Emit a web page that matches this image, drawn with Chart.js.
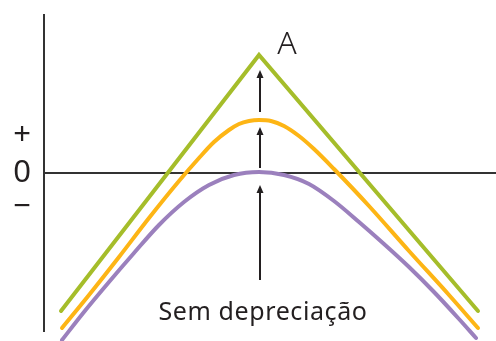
<!DOCTYPE html>
<html>
<head>
<meta charset="utf-8">
<script src="https://cdn.jsdelivr.net/npm/chart.js@4/dist/chart.umd.min.js"></script>
<style>
html,body{margin:0;padding:0;background:#fff;overflow:hidden;}
#wrap{width:496px;height:341px;position:relative;}
</style>
</head>
<body>
<div id="wrap"><canvas id="c"></canvas></div>
<script>
// Data (x: position along horizontal axis, y: value, 0 = zero line)
const greenX  = [17, 215, 434];
const greenY  = [-138, 118, -138];
const orangeX = [18, 45, 75, 105, 135, 155, 170, 185, 195, 205, 215, 227, 240, 255, 270, 290, 325, 365, 405, 434];
const orangeY = [-155, -122, -84, -45, -8, 15, 31, 43, 49, 52, 53, 52, 47, 37, 24, 4, -33, -78, -122, -155];
const purpleX = [18, 40, 65, 90, 115, 140, 165, 190, 215, 240, 265, 290, 315, 340, 365, 390, 415, 432];
const purpleY = [-167, -139, -109, -80, -52, -29, -12, -2, 1, -2, -11, -28, -49, -71, -94, -119, -146, -165];
const tickValues = [38, 0, -34];
const tickLabels = ['+', '0', '\u2212'];
// arrows: x position and [from, to] values
const arrowX = 216;
const arrowFrom = [-107, 5, 61];
const arrowTo   = [-12, 46, 103];
const labelA = {x: 243, y: 128, text: 'A'};
const labelSem = {x: 219, y: -140, text: 'Sem depreciação'};

const pts = (xs, ys) => xs.map((x, i) => ({x, y: ys[i]}));

const annotate = {
  id: 'annotate',
  afterDatasetsDraw(chart) {
    const {ctx, scales: {x, y}} = chart;
    ctx.save();
    ctx.strokeStyle = '#231f20';
    ctx.fillStyle = '#231f20';
    ctx.lineWidth = 2;
    const px = x.getPixelForValue(arrowX);
    arrowFrom.forEach((f, i) => {
      const y0 = y.getPixelForValue(f);
      const y1 = y.getPixelForValue(arrowTo[i]);
      ctx.beginPath();
      ctx.moveTo(px, y0);
      ctx.lineTo(px, y1 + 6);
      ctx.stroke();
      ctx.beginPath();
      ctx.moveTo(px, y1);
      ctx.lineTo(px - 3.5, y1 + 8);
      ctx.lineTo(px + 3.5, y1 + 8);
      ctx.closePath();
      ctx.fill();
    });
    ctx.textAlign = 'center';
    ctx.textBaseline = 'middle';
    ctx.font = '300 32px "Noto Sans", "Liberation Sans", sans-serif';
    ctx.fillText(labelA.text, x.getPixelForValue(labelA.x), y.getPixelForValue(labelA.y));
    ctx.font = '25px "Noto Sans", "Liberation Sans", sans-serif';
    try { ctx.letterSpacing = '0.6px'; } catch (e) {}
    ctx.fillText(labelSem.text, x.getPixelForValue(labelSem.x), y.getPixelForValue(labelSem.y));
    ctx.restore();
  }
};

const lineDs = (data, color, smooth) => ({
  data, borderColor: color, borderWidth: 4, pointRadius: 0, fill: false,
  clip: false, borderCapStyle: 'round', borderJoinStyle: 'miter',
  cubicInterpolationMode: smooth ? 'monotone' : 'default', tension: 0
});

new Chart(document.getElementById('c'), {
  type: 'line',
  data: {
    datasets: [
      lineDs(pts(purpleX, purpleY), '#9b80bd', true),
      lineDs(pts(orangeX, orangeY), '#fdb515', true),
      lineDs(pts(greenX, greenY), '#a5bd2a', false)
    ]
  },
  options: {
    responsive: true,
    maintainAspectRatio: false,
    animation: false,
    devicePixelRatio: 1,
    layout: {padding: {top: 15, bottom: 10, left: 0, right: 0}},
    plugins: {legend: {display: false}, tooltip: {enabled: false}},
    scales: {
      x: {type: 'linear', min: 0, max: 452, display: false},
      y: {
        type: 'linear', min: -158, max: 158,
        afterBuildTicks(scale) { scale.ticks = tickValues.map(v => ({value: v})); },
        afterFit(scale) { scale.width = 44; scale.paddingTop = 0; scale.paddingBottom = 0; },
        border: {display: true, color: '#333', width: 2},
        grid: {
          drawTicks: false,
          lineWidth: 2,
          color: ctx => (ctx.tick && ctx.tick.value === 0) ? '#333' : 'rgba(0,0,0,0)'
        },
        ticks: {
          autoSkip: false,
          crossAlign: 'center',
          padding: 13,
          color: '#231f20',
          font: {family: '"Noto Sans", "Liberation Sans", sans-serif', size: 31, weight: 400},
          callback: (v) => tickLabels[tickValues.indexOf(v)]
        }
      }
    }
  },
  plugins: [annotate]
});
</script>
</body>
</html>
